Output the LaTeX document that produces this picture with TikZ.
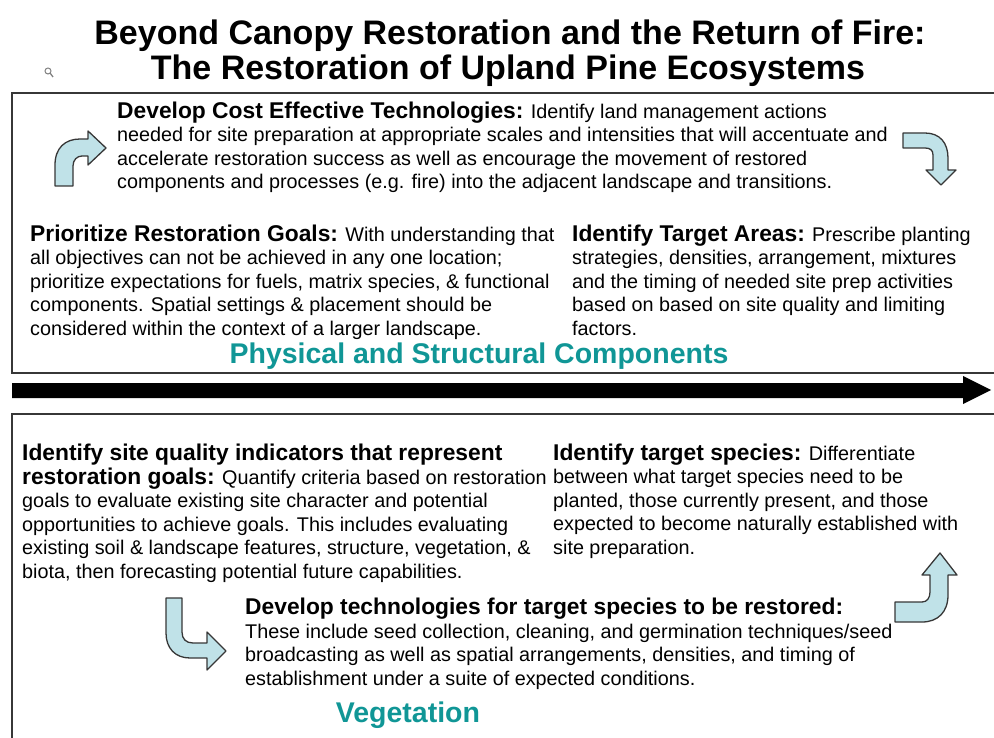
\documentclass[tikz,border=0pt]{standalone}
\usepackage{fontspec}
\setmainfont{Liberation Sans}
\usepackage{tikz}

\definecolor{tealtext}{RGB}{16,150,150}
\definecolor{arrowfill}{RGB}{192,226,232}
\definecolor{edgegray}{RGB}{55,55,55}

\newcommand{\blockhead}[1]{{\fontsize{22.8}{23.5}\selectfont\bfseries #1}}

\tikzset{
    textblock/.style={anchor=base west, align=left, inner sep=0pt,
        font=\fontsize{19.8}{23.5}\selectfont},
    titletext/.style={anchor=base, align=center, inner sep=0pt,
        font=\fontsize{34}{35}\selectfont\bfseries},
    teallabel/.style={anchor=base, inner sep=0pt, text=tealtext,
        font=\fontsize{28.5}{30}\selectfont\bfseries},
    bendarrow/.style={fill=arrowfill, draw=edgegray, line width=1.3pt, line join=round},
    panel/.style={draw=edgegray, line width=2.4pt}
}

\begin{document}
\begin{tikzpicture}[x=1pt, y=-1pt]
    \useasboundingbox (0,0) rectangle (994,738);

    % title
    \node[titletext] at (510,45) (title1) {Beyond Canopy Restoration and the Return of Fire:};
    \node[titletext] at (508,80) (title2) {The Restoration of Upland Pine Ecosystems};
    \draw[gray, line width=1pt] (48,71) circle (3);
    \draw[gray, line width=1.3pt] (50,73) -- (53,77);

    % panels
    \draw[panel] (994,93) -- (12,93) -- (12,373) -- (994,373);
    \draw[panel] (994,414) -- (12,414) -- (12,738);
    \fill (12,383) -- (963,383) -- (963,376) -- (991,390) -- (963,404) -- (963,398) -- (12,398) -- cycle;

    % physical and structural components (anchors sit on the last line)
    \node[textblock] at (117,189) (cost) {\blockhead{Develop Cost Effective Technologies:} Identify land management actions\\
        needed for site preparation at appropriate scales and intensities that will accentuate and\\
        accelerate restoration success as well as encourage the movement of restored\\
        components and processes (e.g. fire) into the adjacent landscape and transitions.};
    \node[textblock] at (30,335) (goals) {\blockhead{Prioritize Restoration Goals:} With understanding that\\
        all objectives can not be achieved in any one location;\\
        prioritize expectations for fuels, matrix species, \& functional\\
        components. Spatial settings \& placement should be\\
        considered within the context of a larger landscape.};
    \node[textblock] at (572,335) (areas) {\blockhead{Identify Target Areas:} Prescribe planting\\
        strategies, densities, arrangement, mixtures\\
        and the timing of needed site prep activities\\
        based on based on site quality and limiting\\
        factors.};
    \node[teallabel] at (479,363) (physical) {Physical and Structural Components};

    \draw[bendarrow] (55,186) -- (55,165) .. controls (55,148) and (65,139) .. (80,139) -- (88,139) -- (88,131)
        -- (106,148) -- (88,165) -- (88,156) -- (82,156) .. controls (77,156) and (73,160) .. (73,166) -- (73,186) -- cycle;
    \draw[bendarrow] (903,133) -- (925,133) .. controls (940,133) and (948,143) .. (948,158) -- (948,170) -- (956,170)
        -- (941,185) -- (926,170) -- (933,170) -- (933,155) .. controls (933,150) and (930,148) .. (925,148) -- (903,148) -- cycle;

    % vegetation
    \node[textblock] at (22,578) (indicators) {\blockhead{Identify site quality indicators that represent}\\
        \blockhead{restoration goals:} Quantify criteria based on restoration\\
        goals to evaluate existing site character and potential\\
        opportunities to achieve goals. This includes evaluating\\
        existing soil \& landscape features, structure, vegetation, \&\\
        biota, then forecasting potential future capabilities.};
    \node[textblock] at (553,554) (species) {\blockhead{Identify target species:} Differentiate\\
        between what target species need to be\\
        planted, those currently present, and those\\
        expected to become naturally established with\\
        site preparation.};
    \node[textblock] at (245,685) (seedtech) {\blockhead{Develop technologies for target species to be restored:}\\
        These include seed collection, cleaning, and germination techniques/seed\\
        broadcasting as well as spatial arrangements, densities, and timing of\\
        establishment under a suite of expected conditions.};
    \node[teallabel] at (408,722) (vegetation) {Vegetation};

    \draw[bendarrow] (166,598) -- (182,598) -- (182,632) .. controls (182,639) and (186,643) .. (193,643) -- (207,643)
        -- (207,632) -- (226,651) -- (207,670) -- (207,658) -- (190,658) .. controls (175,658) and (166,648) .. (166,633) -- cycle;
    \draw[bendarrow] (895,602) -- (922,602) .. controls (927,602) and (930,598) .. (930,592) -- (930,575) -- (922,575)
        -- (940,553) -- (957,575) -- (948,575) -- (948,595) .. controls (948,612) and (938,622) .. (922,622) -- (895,622) -- cycle;
\end{tikzpicture}
\end{document}
